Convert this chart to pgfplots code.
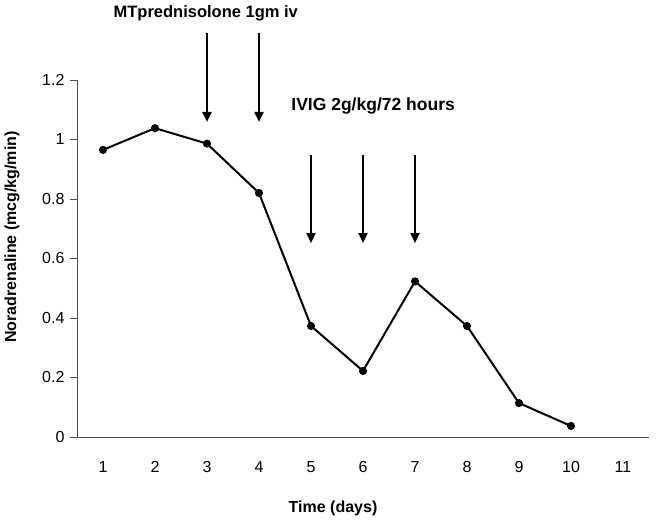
\documentclass[border=0pt]{standalone}
\usepackage{pgfplots}
\pgfplotsset{compat=1.18}
\usepackage{fontspec}
\setmainfont{Liberation Sans}
\usetikzlibrary{arrows.meta}
\begin{document}
\begin{tikzpicture}
\begin{axis}[
  scale only axis,
  width=572pt, height=357pt,
  xmin=0.5, xmax=11.5, ymin=0, ymax=1.2,
  axis x line*=bottom, axis y line*=left,
  axis line style={black!70, line width=0.8pt},
  xtick={1,...,11}, ytick={0,0.2,...,1.2},
  yticklabels={0,0.2,0.4,0.6,0.8,1,1.2},
  x tick style={draw=none},
  y tick style={black!70, line width=0.8pt},
  tick align=outside, major tick length=7pt,
  xticklabel style={yshift=-14pt},
  yticklabel style={xshift=-2pt},
  tick label style={font=\fontsize{16}{18}\selectfont},
  /pgf/number format/assume math mode=true,
  xlabel={\textbf{Time (days)}},
  ylabel={\textbf{Noradrenaline (mcg/kg/min)}},
  label style={font=\fontsize{16}{18}\selectfont},
  xlabel style={at={(rel axis cs:0.4476,-0.199)}, anchor=center},
  ylabel style={at={(rel axis cs:-0.1136,0.56)}, anchor=center, rotate=0},
  clip=false,
]
\addplot[black, line width=2pt, mark=*, mark size=3pt] coordinates {
  (1,0.965) (2,1.038) (3,0.986) (4,0.820) (5,0.373)
  (6,0.222) (7,0.523) (8,0.373) (9,0.114) (10,0.037)
};
\draw[line width=2pt, -{Triangle[length=10pt,width=9pt]}] (axis cs:3,1.358) -- (axis cs:3,1.059);
\draw[line width=2pt, -{Triangle[length=10pt,width=9pt]}] (axis cs:4,1.358) -- (axis cs:4,1.059);
\draw[line width=2pt, -{Triangle[length=10pt,width=9pt]}] (axis cs:5,0.948) -- (axis cs:5,0.652);
\draw[line width=2pt, -{Triangle[length=10pt,width=9pt]}] (axis cs:6,0.948) -- (axis cs:6,0.652);
\draw[line width=2pt, -{Triangle[length=10pt,width=9pt]}] (axis cs:7,0.948) -- (axis cs:7,0.652);
\node[anchor=west, inner sep=0pt, font=\fontsize{16.5}{18}\selectfont\bfseries] at (axis cs:1.2,1.425) {MTprednisolone 1gm iv};
\node[anchor=west, inner sep=0pt, font=\fontsize{17.5}{18}\selectfont\bfseries] at (axis cs:4.62,1.113) {IVIG 2g/kg/72 hours};
\coordinate (bl) at (rel axis cs:-0.1346,-0.2325);
\coordinate (tr) at (rel axis cs:1.0122,1.224);
\end{axis}
\path (bl) rectangle (tr);
\end{tikzpicture}
\end{document}
